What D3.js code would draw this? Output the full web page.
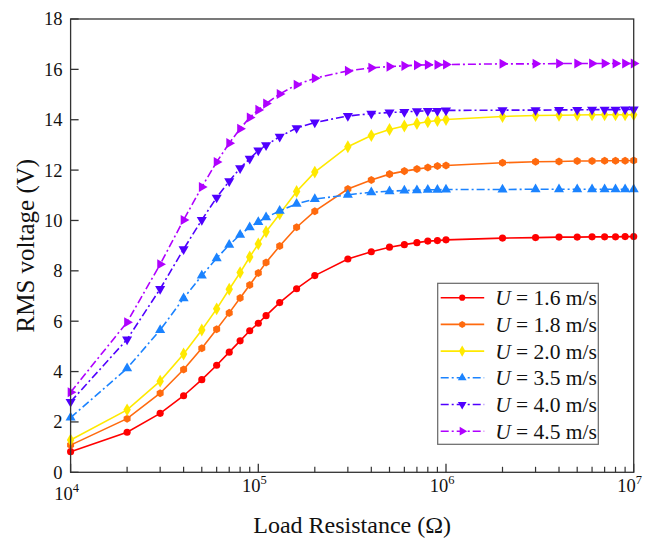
<!DOCTYPE html>
<html>
<head>
<meta charset="utf-8">
<script src="https://cdn.jsdelivr.net/npm/d3@7"></script>
<style>
  body { margin: 0; background: #fff; }
  svg { display: block; font-family: 'Liberation Serif', 'Times New Roman', serif; }
</style>
</head>
<body>
<svg id="chart" width="648" height="539"></svg>
<script>
const resistance = [1e4, 2e4, 3e4, 4e4, 5e4, 6e4, 7e4, 8e4, 9e4, 1e5, 1.1e5, 1.3e5, 1.6e5, 2e5,
  3e5, 4e5, 5e5, 6e5, 7e5, 8e5, 9e5, 1e6, 2e6, 3e6, 4e6, 5e6, 6e6, 7e6, 8e6, 9e6, 1e7];

const speedLabels = ['1.6', '1.8', '2.0', '3.5', '4.0', '4.5'];

const v16 = [0.82, 1.59, 2.34, 3.04, 3.68, 4.25, 4.77, 5.22, 5.62, 5.92, 6.22, 6.74, 7.29, 7.81,
  8.47, 8.76, 8.94, 9.04, 9.12, 9.18, 9.20, 9.23, 9.30, 9.32, 9.34, 9.34, 9.35, 9.35, 9.35, 9.36, 9.36];
const v18 = [1.08, 2.13, 3.14, 4.08, 4.93, 5.68, 6.33, 6.92, 7.44, 7.91, 8.33, 8.99, 9.73, 10.37,
  11.25, 11.61, 11.84, 11.96, 12.04, 12.10, 12.16, 12.18, 12.29, 12.33, 12.34, 12.36, 12.36, 12.37, 12.37, 12.37, 12.38];
const v20 = [1.28, 2.48, 3.62, 4.70, 5.65, 6.49, 7.27, 7.93, 8.55, 9.07, 9.55, 10.26, 11.15, 11.92,
  12.93, 13.37, 13.61, 13.75, 13.85, 13.92, 13.97, 14.01, 14.13, 14.17, 14.18, 14.19, 14.20, 14.20, 14.20, 14.20, 14.20];
const v35 = [2.17, 4.13, 5.65, 6.91, 7.81, 8.50, 9.03, 9.43, 9.73, 9.94, 10.12, 10.38, 10.66, 10.85,
  11.02, 11.12, 11.16, 11.19, 11.20, 11.22, 11.22, 11.23, 11.23, 11.24, 11.24, 11.24, 11.24, 11.24, 11.24, 11.24, 11.24];
const v40 = [2.80, 5.28, 7.28, 8.86, 10.02, 10.91, 11.56, 12.08, 12.45, 12.78, 12.99, 13.33, 13.67, 13.89,
  14.15, 14.24, 14.29, 14.31, 14.34, 14.35, 14.35, 14.37, 14.38, 14.38, 14.39, 14.39, 14.40, 14.40, 14.40, 14.41, 14.41];
const v45 = [3.18, 5.96, 8.26, 10.02, 11.33, 12.32, 13.07, 13.64, 14.09, 14.39, 14.64, 15.02, 15.39, 15.65,
  15.94, 16.06, 16.11, 16.14, 16.17, 16.18, 16.18, 16.19, 16.22, 16.22, 16.23, 16.23, 16.23, 16.23, 16.23, 16.23, 16.23];

const yTicks = [0, 2, 4, 6, 8, 10, 12, 14, 16, 18];
const xMajorTicks = [1e4, 1e5, 1e6, 1e7];

const colors = ['#ff0000', '#ff6a0e', '#ffe900', '#1b83ff', '#5000ff', '#b000ff'];
const DASH_DOT = '8,3,2,3';

const hexagon = {
  draw(context, size) {
    const r = Math.sqrt(size / 2.598);
    for (let i = 0; i < 6; i++) {
      const a = Math.PI / 6 + i * Math.PI / 3;
      if (i === 0) context.moveTo(r * Math.cos(a), r * Math.sin(a));
      else context.lineTo(r * Math.cos(a), r * Math.sin(a));
    }
    context.closePath();
  }
};

const series = [
  { values: v16, symbol: d3.symbolCircle, size: 40, rotate: 0, dash: null },
  { values: v18, symbol: hexagon, size: 42, rotate: 0, dash: null },
  { values: v20, symbol: d3.symbolDiamond, size: 48, rotate: 0, dash: null },
  { values: v35, symbol: d3.symbolTriangle, size: 44, rotate: 0, dash: DASH_DOT },
  { values: v40, symbol: d3.symbolTriangle, size: 44, rotate: 180, dash: DASH_DOT },
  { values: v45, symbol: d3.symbolTriangle, size: 44, rotate: 90, dash: DASH_DOT }
].map((s, i) => ({ ...s, label: speedLabels[i], color: colors[i] }));

const svg = d3.select('#chart');
const margin = { top: 19, right: 14.3, bottom: 66.7, left: 70.6 };
const width = +svg.attr('width');
const height = +svg.attr('height');

const x = d3.scaleLog().domain([1e4, 1e7]).range([margin.left, width - margin.right]);
const y = d3.scaleLinear().domain([0, 18]).range([height - margin.bottom, margin.top]);

const AXIS_COLOR = '#333';

// series
const line = d3.line().x((d) => x(d[0])).y((d) => y(d[1]));

series.forEach((s) => {
  const pts = resistance.map((r, i) => [r, s.values[i]]);
  svg.append('path')
    .datum(pts)
    .attr('fill', 'none')
    .attr('stroke', s.color)
    .attr('stroke-width', 1.6)
    .attr('stroke-dasharray', s.dash)
    .attr('d', line);

  svg.append('g')
    .selectAll('path')
    .data(pts)
    .enter()
    .append('path')
    .attr('transform', (d) => `translate(${x(d[0])},${y(d[1])}) rotate(${s.rotate})`)
    .attr('d', d3.symbol().type(s.symbol).size(s.size))
    .attr('fill', s.color);
});

// frame
const x0 = x.range()[0], x1 = x.range()[1], y0 = y.range()[0], y1 = y.range()[1];
svg.append('rect')
  .attr('x', x0).attr('y', y1)
  .attr('width', x1 - x0).attr('height', y0 - y1)
  .attr('fill', 'none')
  .attr('stroke', AXIS_COLOR)
  .attr('stroke-width', 1.3);

// y ticks
const yAxis = svg.append('g');
yAxis.selectAll('line')
  .data(yTicks)
  .enter()
  .append('line')
  .attr('x1', x0).attr('x2', x0 + 8)
  .attr('y1', (d) => y(d)).attr('y2', (d) => y(d))
  .attr('stroke', AXIS_COLOR)
  .attr('stroke-width', 1.3);
yAxis.selectAll('text')
  .data(yTicks)
  .enter()
  .append('text')
  .attr('x', x0 - 8)
  .attr('y', (d) => y(d))
  .attr('dy', '0.35em')
  .attr('text-anchor', 'end')
  .attr('font-size', 18.5)
  .attr('fill', '#111')
  .text((d) => d);

// x ticks (major + minor)
const xMinor = [];
for (let e = 4; e < 7; e++) {
  for (let m = 2; m <= 9; m++) xMinor.push(m * Math.pow(10, e));
}
const xAxis = svg.append('g');
xAxis.selectAll('line.major')
  .data(xMajorTicks)
  .enter()
  .append('line')
  .attr('class', 'major')
  .attr('x1', (d) => x(d)).attr('x2', (d) => x(d))
  .attr('y1', y0).attr('y2', y0 - 8.5)
  .attr('stroke', AXIS_COLOR)
  .attr('stroke-width', 1.3);
xAxis.selectAll('line.minor')
  .data(xMinor)
  .enter()
  .append('line')
  .attr('class', 'minor')
  .attr('x1', (d) => x(d)).attr('x2', (d) => x(d))
  .attr('y1', y0).attr('y2', y0 - 5.5)
  .attr('stroke', AXIS_COLOR)
  .attr('stroke-width', 1.2);

// the first decade label sits a little lower, clear of the "0" tick label
const xLabels = xAxis.selectAll('text')
  .data(xMajorTicks)
  .enter()
  .append('text')
  .attr('x', (d) => x(d) - 4)
  .attr('y', (d, i) => (i === 0 ? 500 : 492))
  .attr('text-anchor', 'middle')
  .attr('font-size', 18.5)
  .attr('fill', '#111');
xLabels.append('tspan').text('10');
xLabels.append('tspan')
  .attr('dy', -8)
  .attr('font-size', 12.5)
  .text((d) => Math.round(Math.log10(d)));

// axis titles
svg.append('text')
  .attr('x', (x0 + x1) / 2)
  .attr('y', 533)
  .attr('text-anchor', 'middle')
  .attr('font-size', 24)
  .attr('fill', '#111')
  .text('Load Resistance (Ω)');

svg.append('text')
  .attr('transform', `translate(34,${(y0 + y1) / 2}) rotate(-90)`)
  .attr('text-anchor', 'middle')
  .attr('font-size', 25)
  .attr('fill', '#111')
  .text('RMS voltage (V)');

// legend
const LEGEND_X = 437.7;
const LEGEND_Y = 283.3;
const LEGEND_ROW = 26.7;
const legend = svg.append('g').attr('transform', `translate(${LEGEND_X},${LEGEND_Y})`);
legend.append('rect')
  .attr('width', 160.6)
  .attr('height', 161)
  .attr('fill', '#fff')
  .attr('stroke', '#666')
  .attr('stroke-width', 1.2);

const legendRows = legend.selectAll('g.row')
  .data(series)
  .enter()
  .append('g')
  .attr('class', 'row')
  .attr('transform', (d, i) => `translate(0,${14.4 + i * LEGEND_ROW})`);

legendRows.append('line')
  .attr('x1', 3).attr('x2', 46.5)
  .attr('stroke', (d) => d.color)
  .attr('stroke-width', 1.6)
  .attr('stroke-dasharray', (d) => d.dash);

legendRows.append('path')
  .attr('transform', (d) => `translate(24.5,0) rotate(${d.rotate})`)
  .attr('d', (d) => d3.symbol().type(d.symbol).size(d.size * 0.75)())
  .attr('fill', (d) => d.color);

const legendText = legendRows.append('text')
  .attr('x', 57.5)
  .attr('y', 7.5)
  .attr('font-size', 21.5)
  .attr('fill', '#111');
legendText.append('tspan').attr('font-style', 'italic').text('U');
legendText.append('tspan').text((d) => ` = ${d.label} m/s`);
</script>
</body>
</html>
